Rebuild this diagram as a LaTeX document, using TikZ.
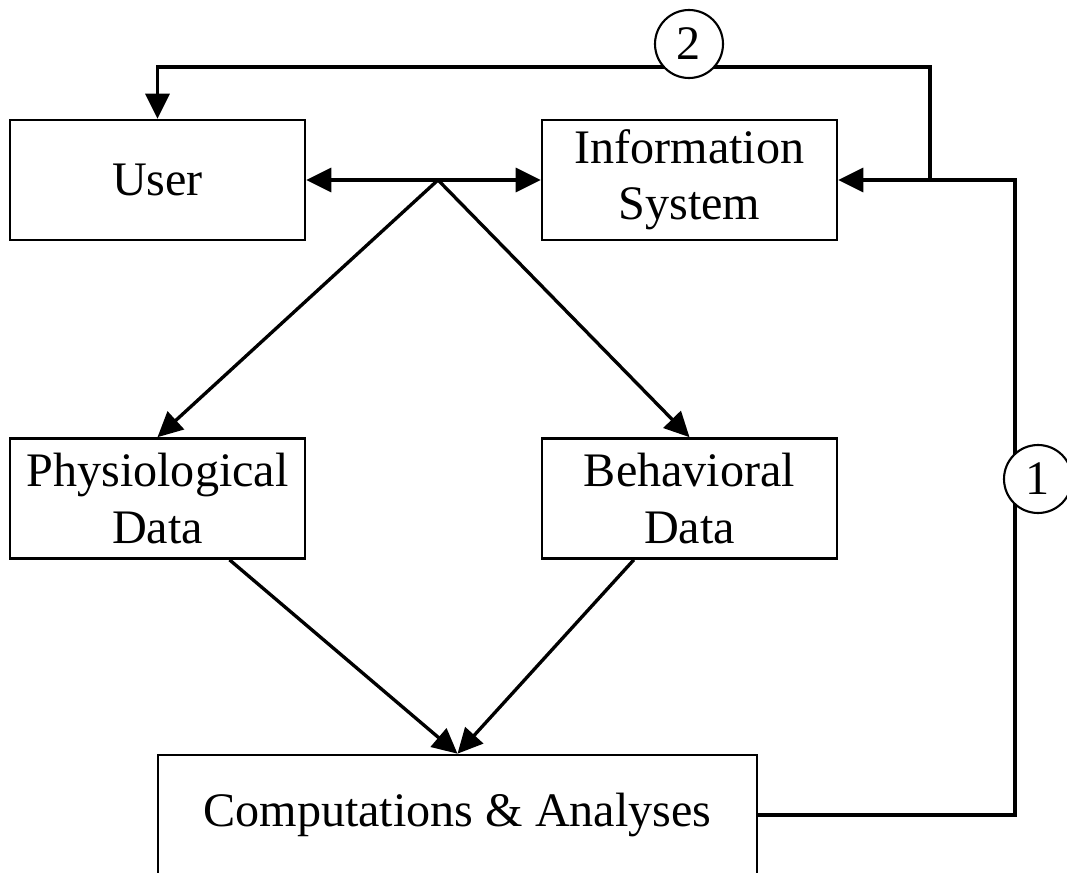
\documentclass[tikz,border=0pt]{standalone}
\usepackage{fontspec}
\setmainfont{Liberation Serif}
\usetikzlibrary{calc,positioning,shapes,arrows.meta}

\tikzset{
	block/.style={shape=rectangle,draw,line width=1.5pt,minimum width=5.9cm,minimum height=2.4cm,align=center,font=\fontsize{27.4}{32}\selectfont},
	tag/.style={shape=circle,draw,fill=white,line width=1.2pt,minimum size=1.36cm,inner sep=0pt,font=\fontsize{27.4}{32}\selectfont},
	link/.style={line width=1.9pt,-{Triangle[length=5mm,width=4.8mm]}},
}

\begin{document}
\begin{tikzpicture}[scale = 1.0]
	\useasboundingbox (0,0) rectangle (21.34,-17.44);
	\node(user) [block] at (3.15,-3.6) {User};
	\node(info) [block] at (13.79,-3.6) {Information\\System};
	\node(physio) [block] at (3.15,-9.97) {Physiological\\Data};
	\node(behav) [block] at (13.79,-9.97) {Behavioral\\Data};
	\node(comp) [block, minimum width = 11.98cm] at (9.15,-16.3) {Computations \& Analyses};
	
	\coordinate(hub) at (8.76,-3.6);
	\coordinate(up) at (18.6,-3.6);
	\coordinate(loop) at (18.6,-1.34);
	\coordinate(turn) at (20.3,-16.3);
	
	\path [link]
	(hub) edge (user)
	(hub) edge (info)
	(hub) edge (physio.north)
	(hub) edge (behav.north)
	(physio) edge (comp.north)
	(behav) edge (comp.north);
	
	% feedback loops
	\draw [link] (comp.east) -- (turn) |- (info);
	\draw [link] (up) -- (loop) -| (user);
	
	\node(two) [tag] at (13.78,-0.88) {2};
	\node(one) [tag] at (20.76,-9.58) {1};
\end{tikzpicture}
\end{document}
